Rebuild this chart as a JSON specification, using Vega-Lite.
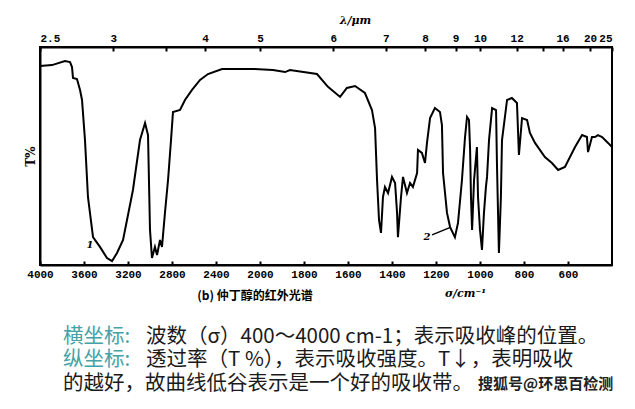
{
  "$schema": "https://vega.github.io/schema/vega-lite/v6.json",
  "autosize": "none",
  "width": 572,
  "height": 218,
  "padding": {"left": 40, "top": 47, "right": 23, "bottom": 144},
  "background": "white",
  "config": {
    "view": {"stroke": "#000", "strokeWidth": 2},
    "axis": {"domainColor": "#000", "domainWidth": 2, "tickColor": "#000", "tickWidth": 2, "labelColor": "#000", "labelFont": "Liberation Mono", "labelFontWeight": "bold", "labelFontSize": 11, "grid": false, "titleColor": "#000"}
  },
  "datasets": {
    "spectrum": [
      {"s":4000,"t":91.3},{"s":3891,"t":91.7},{"s":3773,"t":93.6},{"s":3727,"t":93.1},{"s":3709,"t":90.8},{"s":3700,"t":85.8},{"s":3664,"t":85.3},{"s":3636,"t":80.3},{"s":3618,"t":75.7},{"s":3591,"t":57.3},{"s":3564,"t":31.2},{"s":3518,"t":12.8},{"s":3455,"t":8.3},{"s":3391,"t":3.2},{"s":3345,"t":1.8},{"s":3300,"t":5.5},{"s":3245,"t":11.5},{"s":3155,"t":34.4},{"s":3091,"t":57.3},{"s":3045,"t":65.1},{"s":3018,"t":59.6},{"s":3000,"t":16.1},{"s":2982,"t":3.2},{"s":2955,"t":8.3},{"s":2936,"t":4.6},{"s":2909,"t":11.5},{"s":2891,"t":8.3},{"s":2864,"t":23.9},{"s":2836,"t":39},{"s":2809,"t":57.3},{"s":2791,"t":70.2},{"s":2727,"t":71.1},{"s":2682,"t":75.7},{"s":2618,"t":80.3},{"s":2545,"t":84.9},{"s":2473,"t":87.6},{"s":2345,"t":89.9},{"s":2182,"t":89.9},{"s":2050,"t":89.9},{"s":1941,"t":89.4},{"s":1886,"t":88.5},{"s":1864,"t":89.4},{"s":1741,"t":87.6},{"s":1691,"t":81.7},{"s":1636,"t":77.1},{"s":1605,"t":81.2},{"s":1568,"t":82.1},{"s":1523,"t":78.9},{"s":1491,"t":71.1},{"s":1477,"t":62.8},{"s":1468,"t":39},{"s":1459,"t":20.6},{"s":1450,"t":14.7},{"s":1441,"t":31.2},{"s":1432,"t":35.8},{"s":1418,"t":33},{"s":1400,"t":40.4},{"s":1386,"t":37.6},{"s":1377,"t":23.9},{"s":1373,"t":12.8},{"s":1359,"t":31.2},{"s":1350,"t":40.4},{"s":1332,"t":33},{"s":1318,"t":37.6},{"s":1305,"t":35.8},{"s":1286,"t":42.2},{"s":1282,"t":52.8},{"s":1264,"t":51.4},{"s":1250,"t":46.8},{"s":1241,"t":56},{"s":1227,"t":67.4},{"s":1205,"t":72},{"s":1182,"t":70.2},{"s":1173,"t":64.2},{"s":1168,"t":42.2},{"s":1150,"t":23.9},{"s":1136,"t":17.4},{"s":1114,"t":12.8},{"s":1100,"t":19.3},{"s":1082,"t":39},{"s":1068,"t":58.7},{"s":1059,"t":67.9},{"s":1050,"t":66.5},{"s":1045,"t":52.8},{"s":1041,"t":31.2},{"s":1036,"t":16.1},{"s":1027,"t":39},{"s":1014,"t":54.1},{"s":1009,"t":31.2},{"s":1000,"t":16.1},{"s":991,"t":6.9},{"s":982,"t":23.9},{"s":973,"t":35.8},{"s":968,"t":40.4},{"s":959,"t":57.3},{"s":945,"t":72},{"s":927,"t":71.1},{"s":923,"t":46.8},{"s":914,"t":5.5},{"s":905,"t":31.2},{"s":900,"t":57.3},{"s":877,"t":75.7},{"s":855,"t":76.6},{"s":832,"t":74.3},{"s":823,"t":50.5},{"s":809,"t":67.4},{"s":786,"t":66.5},{"s":773,"t":60.6},{"s":750,"t":56},{"s":705,"t":49.5},{"s":673,"t":46.8},{"s":645,"t":43.6},{"s":614,"t":45},{"s":568,"t":54.1},{"s":536,"t":59.6},{"s":514,"t":58.7},{"s":509,"t":51.8},{"s":491,"t":58.7},{"s":477,"t":58.7},{"s":464,"t":59.6},{"s":445,"t":58.7},{"s":418,"t":56},{"s":400,"t":54.1}
    ],
    "markers": [
      {"label": "1", "s": 3545, "t": 9.2},
      {"label": "2", "s": 1241, "t": 12.8}
    ],
    "pointer": [
      {"s": 1218, "t": 13.8, "s2": 1132, "t2": 17.4}
    ],
    "caption": [
      {"label": "(b) 仲丁醇的红外光谱", "s": 2045, "t": -14.2}
    ],
    "notesTeal": [
      {"label": "横坐标:", "s": 3791, "t": -33.0},
      {"label": "纵坐标:", "s": 3791, "t": -43.8}
    ],
    "notesBlack": [
      {"label": "波数（σ）400～4000 cm-1；表示吸收峰的位置。", "s": 3036, "t": -33.0},
      {"label": "透过率（T %），表示吸收强度。T↓，表明吸收", "s": 3036, "t": -43.8},
      {"label": "的越好，故曲线低谷表示是一个好的吸收带。", "s": 3791, "t": -54.6}
    ],
    "watermark": [
      {"label": "搜狐号@环思百检测", "s": 1009, "t": -54.6}
    ]
  },
  "layer": [
    {
      "data": {"name": "spectrum"},
      "mark": {"type": "line", "color": "#000", "strokeWidth": 2, "interpolate": "linear"},
      "encoding": {
        "x": {"field": "s", "type": "quantitative",
          "scale": {"domain": [4000, 2000, 400], "range": [0, 220, 572], "nice": false, "zero": false},
          "axis": {"orient": "bottom", "values": [4000,3600,3200,2800,2400,2000,1800,1600,1400,1200,1000,800,600], "format": "d", "tickSize": -4, "labelPadding": 7, "labelFlush": false,
            "title": "σ/cm⁻¹", "titleFont": "DejaVu Serif", "titleFontStyle": "italic", "titleFontWeight": "bold", "titleFontSize": 11, "titleX": 425, "titleY": 28, "titleBaseline": "middle", "titleAlign": "center"}},
        "y": {"field": "t", "type": "quantitative",
          "scale": {"domain": [0, 100], "nice": false, "zero": false},
          "axis": {"title": "T%", "labels": false, "ticks": false, "titlePadding": 3, "titleFont": "DejaVu Serif", "titleFontWeight": "bold", "titleFontSize": 12}}
      }
    },
    {
      "data": {"name": "markers"},
      "mark": {"type": "text", "font": "DejaVu Serif", "fontStyle": "italic", "fontWeight": "bold", "fontSize": 10, "color": "#000"},
      "encoding": {
        "x": {"field": "s", "type": "quantitative",
          "axis": {"orient": "top", "values": [4000,3333.33,2857.14,2500,2000,1666.67,1428.57,1250,1111.11,1000,833.33,714.29,625,500,400],
            "labelExpr": "(datum.value > 2800 && datum.value < 2900) || (datum.value > 700 && datum.value < 720) ? '' : round(100000/datum.value)/10",
            "tickSize": -4, "labelPadding": 8, "labelFlush": true,
            "title": "λ/μm", "titleFont": "DejaVu Serif", "titleFontStyle": "italic", "titleFontWeight": "bold", "titleFontSize": 11, "titleX": 315, "titleY": -27, "titleBaseline": "middle", "titleAlign": "center"}},
        "y": {"field": "t", "type": "quantitative", "axis": null},
        "text": {"field": "label"}
      }
    },
    {
      "data": {"name": "pointer"},
      "mark": {"type": "rule", "color": "#000", "strokeWidth": 1.5},
      "encoding": {
        "x": {"field": "s", "type": "quantitative", "axis": null},
        "x2": {"field": "s2"},
        "y": {"field": "t", "type": "quantitative", "axis": null},
        "y2": {"field": "t2"}
      }
    },
    {
      "data": {"name": "caption"},
      "mark": {"type": "text", "font": "Noto Sans CJK SC", "fontWeight": "bold", "fontSize": 12, "color": "#000", "align": "center", "baseline": "middle"},
      "encoding": {
        "x": {"field": "s", "type": "quantitative", "axis": null},
        "y": {"field": "t", "type": "quantitative", "axis": null},
        "text": {"field": "label"}
      }
    },
    {
      "data": {"name": "notesTeal"},
      "mark": {"type": "text", "font": "Noto Sans CJK SC", "fontSize": 20.5, "color": "#43a3a6", "align": "left", "baseline": "middle"},
      "encoding": {
        "x": {"field": "s", "type": "quantitative", "axis": null},
        "y": {"field": "t", "type": "quantitative", "axis": null},
        "text": {"field": "label"}
      }
    },
    {
      "data": {"name": "notesBlack"},
      "mark": {"type": "text", "font": "Noto Sans CJK SC", "fontSize": 20.5, "color": "#1a1a1a", "align": "left", "baseline": "middle"},
      "encoding": {
        "x": {"field": "s", "type": "quantitative", "axis": null},
        "y": {"field": "t", "type": "quantitative", "axis": null},
        "text": {"field": "label"}
      }
    },
    {
      "data": {"name": "watermark"},
      "mark": {"type": "text", "font": "Noto Sans CJK SC", "fontWeight": "bold", "fontSize": 15, "color": "#222", "align": "left", "baseline": "middle"},
      "encoding": {
        "x": {"field": "s", "type": "quantitative", "axis": null},
        "y": {"field": "t", "type": "quantitative", "axis": null},
        "text": {"field": "label"}
      }
    }
  ],
  "resolve": {"axis": {"x": "independent", "y": "independent"}}
}
